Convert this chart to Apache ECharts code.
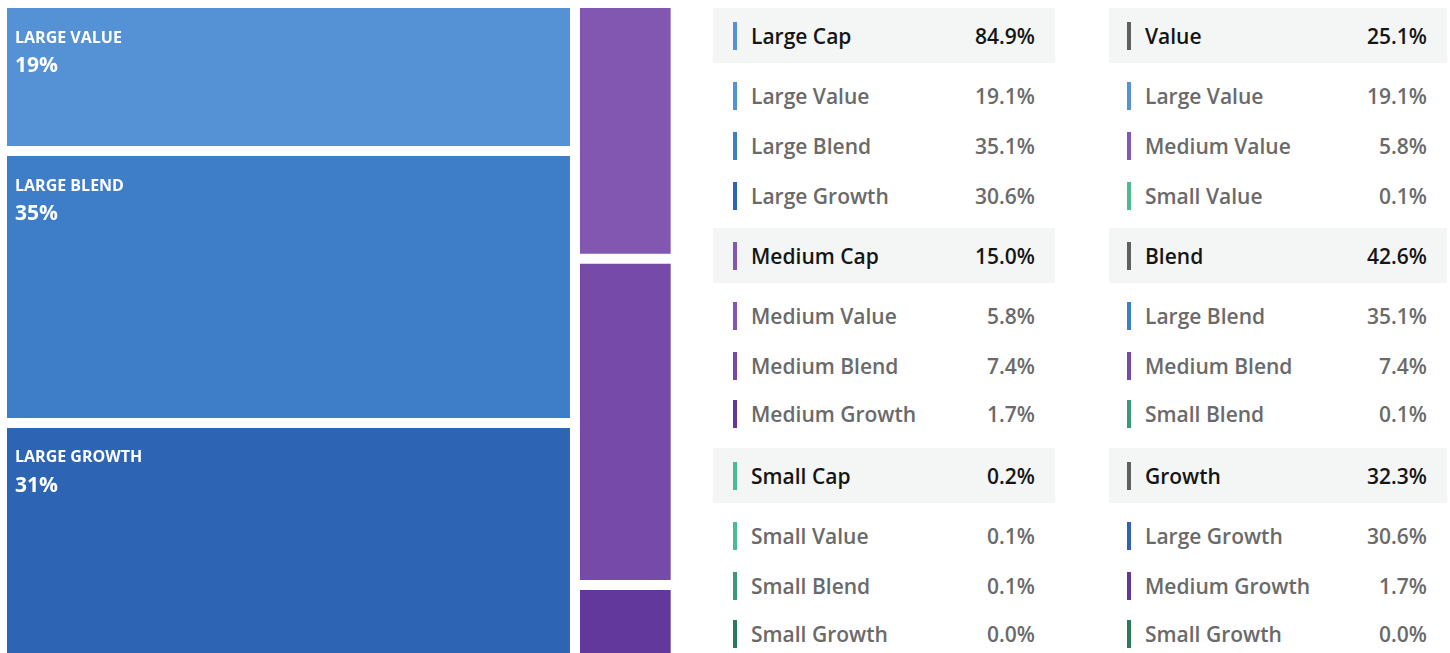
<!DOCTYPE html>
<html>
<head>
<meta charset="utf-8">
<script src="https://cdn.jsdelivr.net/npm/echarts@6/dist/echarts.min.js"></script>
<style>
  html, body { margin:0; background:#fff; font-family:'Open Sans', sans-serif; height:653px; overflow:hidden; }
  #main { position:absolute; left:0; top:0; width:690px; height:680px; }
  .tbl { position:absolute; top:8px; }
  .head { height:55px; background:#f4f5f5; display:flex; align-items:center; font-size:21px; font-weight:600; color:#151515; }
  .row { height:50px; display:flex; align-items:center; font-size:21px; font-weight:600; color:#6a6a6a; }
  .bar { width:4px; height:28px; margin-right:14px; flex:none; }
  .lbl { flex:1; }
  .first { margin-top:8px; }
  .last { margin-bottom:7px; }
</style>
</head>
<body>
<div id="main"></div>
<div class="tbl" id="capTable" style="left:713px;width:342px"></div>
<div class="tbl" id="styleTable" style="left:1109px;width:338px"></div>
<script>
// 规模分组
var capNames = ['Large Cap', 'Medium Cap', 'Small Cap'];
var capTotals = [84.9, 15.0, 0.2];
var capColors = ['#5591d5', '#8257b1', '#4cbb8f'];
// 风格分组
var styleNames = ['Value', 'Blend', 'Growth'];
var styleTotals = [25.1, 42.6, 32.3];
// 九宫格
var boxNames = [
  ['Large Value', 'Large Blend', 'Large Growth'],
  ['Medium Value', 'Medium Blend', 'Medium Growth'],
  ['Small Value', 'Small Blend', 'Small Growth']
];
var largeValues = [19.1, 35.1, 30.6];
var mediumValues = [5.8, 7.4, 1.7];
var smallValues = [0.1, 0.1, 0.0];
var boxColors = [
  ['#5591d5', '#3e7ec8', '#2d64b4'],
  ['#8257b1', '#754aa8', '#62389c'],
  ['#4cbb8f', '#3a9a78', '#2b7a5c']
];
var boxValues = [largeValues, mediumValues, smallValues];

//每列按规模切分，列内按风格切分
var cells = [];
var xSum = 0, total = 0;
boxValues.forEach(function (arr) { arr.forEach(function (v) { total += v; }); });
for (var i = 0; i < 3; i++) {
  var colSum = boxValues[i].reduce(function (a, b) { return a + b; }, 0);
  var ySum = 0;
  for (var j = 0; j < 3; j++) {
    var v = boxValues[i][j];
    cells.push({
      name: boxNames[i][j],
      value: [xSum, xSum + colSum, ySum / colSum, (ySum + v) / colSum, v, i],
      itemStyle: { color: boxColors[i][j] }
    });
    ySum += v;
  }
  xSum += colSum;
}

var GAP = 5;
function renderItem(params, api) {
  var p0 = api.coord([api.value(0), api.value(2)]);
  var p1 = api.coord([api.value(1), api.value(3)]);
  var x = p0[0] + GAP, y = p0[1] + GAP;
  var w = p1[0] - p0[0] - 2 * GAP, h = p1[1] - p0[1] - 2 * GAP;
  if (w <= 0 || h <= 0) return;
  var children = [{
    type: 'rect',
    shape: { x: x, y: y, width: w, height: h },
    style: { fill: api.visual('color') }
  }];
  if (api.value(5) == 0) {
    children.push({
      type: 'text',
      style: { text: cells[params.dataIndex].name.toUpperCase(), x: x + 8, y: y + 30, verticalAlign: 'middle',
        fill: '#fff', font: 'bold 16px "Open Sans"' }
    });
    children.push({
      type: 'text',
      style: { text: Math.round(api.value(4)) + '%', x: x + 8, y: y + 58, verticalAlign: 'middle',
        fill: '#fff', font: 'bold 21px "Open Sans"' }
    });
  }
  return { type: 'group', children: children };
}

var myChart = echarts.init(document.getElementById('main'));
var option = {
  animation: false,
  grid: { left: 2, top: 3, width: 675, height: 657 },
  xAxis: { type: 'value', min: 0, max: total, show: false },
  yAxis: { type: 'value', min: 0, max: 1, inverse: true, show: false },
  series: [{
    type: 'custom',
    renderItem: renderItem,
    encode: { x: [0, 1], y: [2, 3] },
    data: cells
  }]
};
myChart.setOption(option);

//右侧表格
function fmt(v) { return v.toFixed(1) + '%'; }
function makeTable(id, heads, totals, headColors, rowsFn, padL) {
  var html = '';
  for (var i = 0; i < heads.length; i++) {
    html += '<div class="head" style="padding:0 20px 0 ' + padL + 'px"><div class="bar" style="background:' + headColors[i] + '"></div><div class="lbl">' + heads[i] + '</div><div>' + fmt(totals[i]) + '</div></div>';
    var rows = rowsFn(i);
    for (var k = 0; k < rows.length; k++) {
      var cls = 'row' + (k == 0 ? ' first' : '') + (k == rows.length - 1 ? ' last' : '');
      var extra = (k == rows.length - 1 && i > 0) ? 'margin-top:-2px;margin-bottom:9px;' : '';
      html += '<div class="' + cls + '" style="' + extra + 'padding:0 20px 0 ' + padL + 'px"><div class="bar" style="background:' + rows[k][2] + '"></div><div class="lbl">' + rows[k][0] + '</div><div>' + fmt(rows[k][1]) + '</div></div>';
    }
  }
  document.getElementById(id).innerHTML = html;
}
makeTable('capTable', capNames, capTotals, capColors, function (i) {
  return [0, 1, 2].map(function (j) { return [boxNames[i][j], boxValues[i][j], boxColors[i][j]]; });
}, 20);
makeTable('styleTable', styleNames, styleTotals, ['#5f5f5f', '#5f5f5f', '#5f5f5f'], function (j) {
  return [0, 1, 2].map(function (i) { return [boxNames[i][j], boxValues[i][j], boxColors[i][j]]; });
}, 18);
</script>
</body>
</html>
